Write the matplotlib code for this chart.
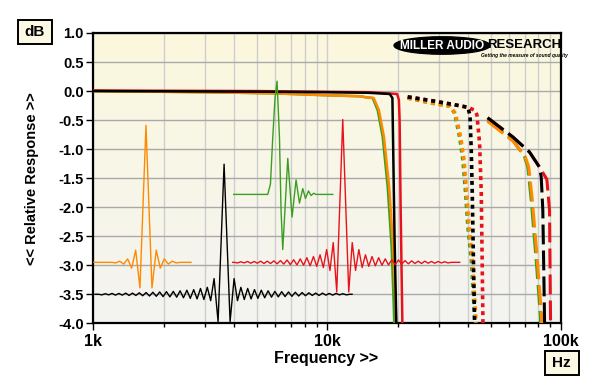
import numpy as np
import matplotlib.pyplot as plt
from matplotlib.patches import Ellipse, Rectangle
from matplotlib.colors import LinearSegmentedColormap
from matplotlib.ticker import FormatStrFormatter, LogLocator, NullFormatter

plt.rcParams['font.family'] = ['Liberation Sans', 'DejaVu Sans']
plt.rcParams['font.weight'] = 'bold'
plt.rcParams['axes.labelweight'] = 'bold'

GREEN = '#3a9e22'
ORANGE = '#ff8a00'
BLACK = '#000000'
RED = '#e8121c'

# --- frequency responses, solid traces (Hz, dB) ---
green_solid_f = [1000, 3000, 6000, 9570, 13900, 14750, 15650, 16440, 17270, 18140, 18860, 19240, 19450]
green_solid_db = [0.0, -0.02, -0.04, -0.07, -0.09, -0.11, -0.12, -0.33, -0.79, -1.65, -2.69, -3.66, -4.3]
orange_solid_f = [1000, 3000, 6000, 9570, 13900, 14750, 15800, 16640, 17480, 18400, 19150, 19600, 19850]
orange_solid_db = [0.0, -0.02, -0.04, -0.07, -0.09, -0.11, -0.12, -0.33, -0.79, -1.65, -2.69, -3.66, -4.3]
black_solid_f = [1000, 5000, 10000, 15000, 18500, 19000, 19150, 19400, 19750, 19850]
black_solid_db = [0.0, -0.01, -0.02, -0.03, -0.05, -0.12, -1.0, -2.5, -4.0, -4.5]
red_solid_f = [1000, 5000, 15000, 19900, 20250, 20400, 20600, 20960, 21050]
red_solid_db = [0.01, 0.0, -0.02, -0.05, -0.15, -0.5, -2.0, -4.0, -4.5]

# --- dotted traces ---
green_dot_f = [22080, 27400, 33400, 35060, 36830, 38050, 39080, 39970, 41330, 42700, 43000]
green_dot_db = [-0.12, -0.2, -0.26, -0.38, -0.79, -1.19, -1.76, -2.34, -2.91, -3.89, -4.5]
orange_dot_f = [22080, 27400, 33400, 35300, 37200, 38500, 39500, 40400, 41800, 43200, 43500]
orange_dot_db = [-0.12, -0.2, -0.26, -0.38, -0.79, -1.19, -1.76, -2.34, -2.91, -3.89, -4.5]
black_dot_f = [22080, 27400, 33400, 39970, 40800, 41300, 41740, 42200, 42700, 42900]
black_dot_db = [-0.1, -0.16, -0.22, -0.28, -0.42, -1.0, -1.8, -2.9, -4.0, -4.5]
red_dot_f = [22080, 27400, 33400, 39970, 42700, 43680, 44850, 45600, 46330, 46450]
red_dot_db = [-0.1, -0.16, -0.22, -0.28, -0.33, -0.41, -0.9, -1.76, -3.9, -4.5]

# --- dashed traces ---
green_dash_f = [48530, 62200, 69800, 72100, 74600, 78300, 81700, 82000]
green_dash_db = [-0.5, -0.84, -1.13, -1.31, -1.88, -2.91, -3.89, -4.5]
orange_dash_f = [48530, 62200, 70300, 72800, 75400, 79200, 82600, 82900]
orange_dash_db = [-0.52, -0.86, -1.13, -1.31, -1.88, -2.91, -3.89, -4.5]
black_dash_f = [48530, 62200, 73300, 80900, 82300, 83600, 85000, 85200]
black_dash_db = [-0.46, -0.79, -1.05, -1.31, -1.48, -2.05, -3.89, -4.5]
red_dash_f = [48530, 62200, 73300, 80900, 87000, 89300, 90200, 90400]
red_dash_db = [-0.46, -0.79, -1.05, -1.31, -1.52, -2.05, -3.9, -4.5]

# --- impulse insets: centre freq, baseline dB, peak, ringing extrema (dB) ---
# time axis of the insets is in screen pixels
black_imp_fc, black_imp_base, black_imp_peak = 3620, -3.5, 2.24
black_imp_side = [-0.47, 0.27, -0.11, 0.12, -0.09, 0.10, -0.08, 0.08, -0.07, 0.07,
                  -0.06, 0.06, -0.05, 0.05, -0.045, 0.045, -0.04, 0.04, -0.035, 0.035,
                  -0.03, 0.03, -0.025, 0.025, -0.02, 0.02, -0.02, 0.02, -0.015, 0.015,
                  -0.015, 0.015, -0.01, 0.01, -0.01]
red_imp_fc, red_imp_base, red_imp_peak = 11650, -2.95, 2.46
red_imp_side = [-0.51, 0.34, -0.14, 0.22, -0.09, 0.13, -0.07, 0.10, -0.06, 0.08,
                -0.05, 0.06, -0.045, 0.045, -0.04, 0.04, -0.03, 0.03, -0.025, 0.025,
                -0.02, 0.02, -0.02, 0.02, -0.015, 0.015, -0.015, 0.015, -0.01, 0.01, -0.01]
orange_imp_fc, orange_imp_base, orange_imp_peak = 1677, -2.95, 2.36
orange_imp_side = [-0.44, 0.21, -0.10, 0.06, -0.03, 0.02, -0.01]
green_imp_fc, green_imp_base = 6100, -1.78
green_imp_t = [-43.3, -9.3, -6.6, -4.3, -2.0, 0.0, 2.4, 4.0, 5.7, 10.7, 15.0, 19.0,
               22.4, 25.7, 28.4, 31.4, 34.0, 36.7, 39.0, 55.7]
green_imp_v = [0.0, 0.0, 0.18, 0.98, 1.67, 1.95, 0.98, -0.28, -0.95, 0.62, -0.39, 0.25,
               -0.15, 0.10, -0.07, 0.06, -0.02, 0.02, 0.0, 0.0]

fig = plt.figure(figsize=(6, 3.9), dpi=100)
ax = fig.add_axes([0.1558, 0.171, 0.7792, 0.7444])

# cream-to-grey background
grad = np.linspace(0, 1, 256).reshape(-1, 1)
bg = LinearSegmentedColormap.from_list('bg', ['#f3f3f1', '#f8f6e8', '#fbf8dd'])
ax.imshow(grad, cmap=bg, origin='lower', extent=[0, 1, 0, 1],
          transform=ax.transAxes, aspect='auto', zorder=0)

ax.set_xscale('log')
ax.set_xlim(1e3, 1e5)
ax.set_ylim(-4.0, 1.0)

ax.set_yticks(np.arange(-4.0, 1.01, 0.5))
ax.yaxis.set_major_formatter(FormatStrFormatter('%.1f'))
ax.set_xticks([1e3, 1e4, 1e5], ['1k', '10k', '100k'])
ax.xaxis.set_minor_locator(LogLocator(base=10, subs=range(2, 10)))
ax.xaxis.set_minor_formatter(NullFormatter())
ax.grid(axis='y', which='major', color='#a9a9a9', lw=1)
ax.grid(axis='x', which='both', color='#cecece', lw=1)
ax.set_axisbelow(True)

for s in ax.spines.values():
    s.set_linewidth(1.6)
ax.tick_params(axis='y', length=5, width=1, pad=2, labelsize=10.5)
ax.tick_params(axis='x', which='major', length=5, width=1, pad=3, labelsize=11.5)
ax.tick_params(axis='x', which='minor', length=3, width=1)

# frequency responses
for f, db, c in [(green_solid_f, green_solid_db, GREEN), (orange_solid_f, orange_solid_db, ORANGE),
                 (red_solid_f, red_solid_db, RED), (black_solid_f, black_solid_db, BLACK)]:
    ax.plot(f, db, color=c, lw=1.8, zorder=3)
for f, db, c in [(green_dot_f, green_dot_db, GREEN), (orange_dot_f, orange_dot_db, ORANGE),
                 (red_dot_f, red_dot_db, RED), (black_dot_f, black_dot_db, BLACK)]:
    ax.plot(f, db, color=c, lw=2.6, ls=(0, (1.1, 1.1)), dash_capstyle='butt', zorder=3)
for f, db, c in [(green_dash_f, green_dash_db, GREEN), (orange_dash_f, orange_dash_db, ORANGE),
                 (red_dash_f, red_dash_db, RED), (black_dash_f, black_dash_db, BLACK)]:
    ax.plot(f, db, color=c, lw=2.2, ls=(0, (6.5, 2)), dash_capstyle='butt', zorder=3)

# impulse insets
px_per_decade = fig.get_figwidth() * fig.dpi * ax.get_position().width / 2


def to_freq(fc, t):
    return fc * 10 ** (np.asarray(t) / px_per_decade)


def sym_trace(peak, first, spacing, side, left, right):
    offs = np.r_[first, first[-1] + spacing * np.arange(1, len(side) - len(first) + 1)]
    tail = offs[-1] + spacing
    t = np.r_[-left, -tail, -offs[::-1], 0, offs, tail, right]
    v = np.r_[0, 0, np.array(side)[::-1], peak, side, 0, 0]
    return t, v


t, v = sym_trace(orange_imp_peak, [6, 10.3], 4.0, orange_imp_side, 52, 45)
ax.plot(to_freq(orange_imp_fc, t), orange_imp_base + v, color=ORANGE, lw=1.0, zorder=4)
t, v = sym_trace(black_imp_peak, [6, 10], 3.4, black_imp_side, 129, 128)
ax.plot(to_freq(black_imp_fc, t), black_imp_base + v, color=BLACK, lw=1.0, zorder=4)
t, v = sym_trace(red_imp_peak, [6, 9.5], 3.3, red_imp_side, 110, 117)
ax.plot(to_freq(red_imp_fc, t), red_imp_base + v, color=RED, lw=1.0, zorder=4)
ax.plot(to_freq(green_imp_fc, green_imp_t), green_imp_base + np.array(green_imp_v),
        color=GREEN, lw=1.0, zorder=4)

# axis labels
ax.set_xlabel('Frequency >>', fontsize=11.5, fontweight='bold')
ax.xaxis.set_label_coords(0.497, -0.12)
ax.xaxis.label.set_va('center')
ax.set_ylabel('<< Relative Response >>', fontsize=10.5, fontweight='bold')
ax.yaxis.set_label_coords(-0.131, 0.5)
ax.yaxis.label.set_va('center')

# unit boxes
for x0, y0, label in [(0.030, 0.8872, 'dB'), (0.9083, 0.0385, 'Hz')]:
    fig.add_artist(Rectangle((x0, y0), 0.056, 0.0615, transform=fig.transFigure,
                             fc='#fbf8e3', ec='black', lw=1.4))
    fig.text(x0 + 0.028, y0 + 0.031, label, ha='center', va='center',
             fontsize=11, fontweight='bold')

# logo
ax.add_patch(Ellipse((0.7455, 0.957), 0.2053, 0.0600, transform=ax.transAxes,
                     fc='black', ec='black', zorder=5))
ax.text(0.7455, 0.956, 'MILLER AUDIO', transform=ax.transAxes, ha='center', va='center',
        color='white', fontsize=8.5, fontweight='heavy', zorder=6)
ax.text(0.9205, 0.957, 'RESEARCH', transform=ax.transAxes, ha='center', va='center',
        color='black', fontsize=9.5, fontweight='heavy', zorder=6)
ax.text(0.921, 0.921, 'Getting the measure of sound quality', transform=ax.transAxes,
        ha='center', va='center', color='black', fontsize=3.5, fontweight='bold',
        style='italic', zorder=6)

fig.savefig('out.png', dpi=100, facecolor='white')
